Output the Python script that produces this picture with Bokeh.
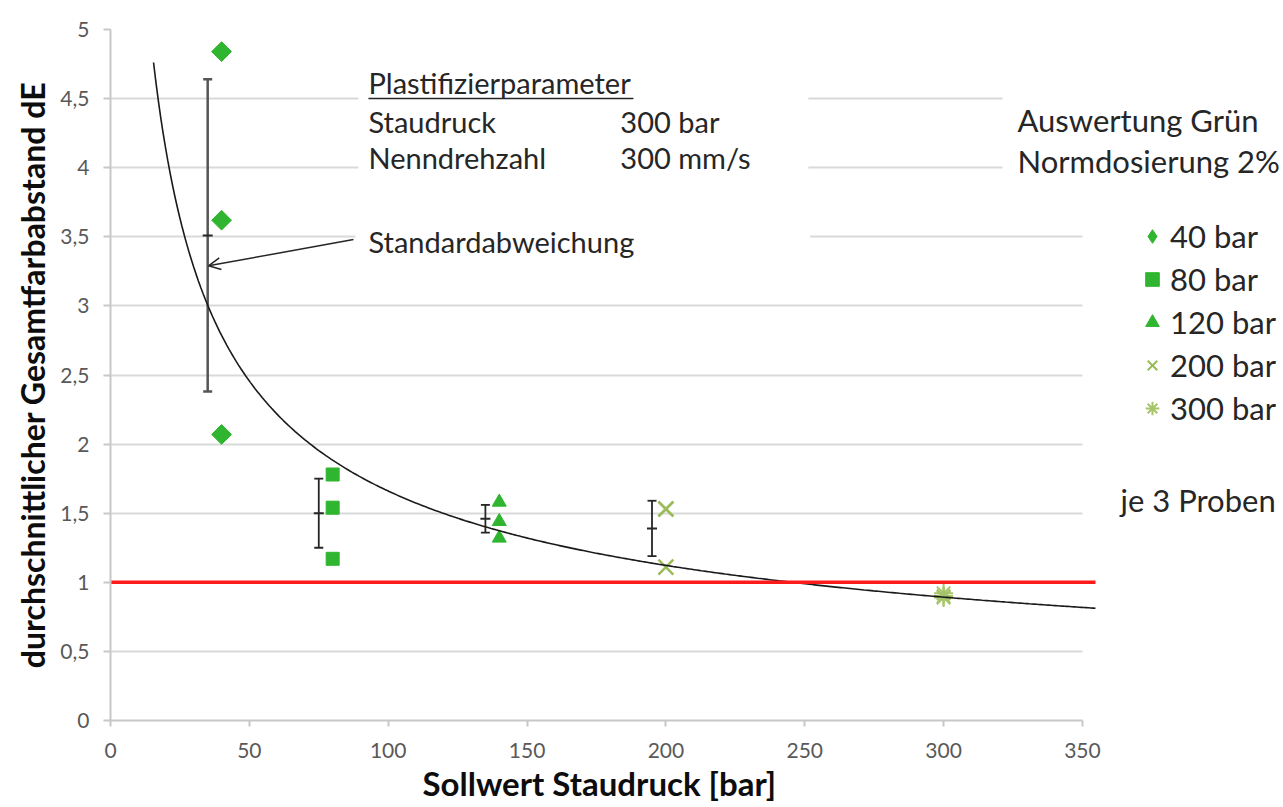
import numpy as np
from bokeh.plotting import figure
from bokeh.models import (ColumnDataSource, Range1d, Label, Arrow, OpenHead, Whisker, TeeHead,
                          BoxAnnotation, Legend, LegendItem, FixedTicker, Title)
from bokeh.embed import file_html
from bokeh.resources import INLINE

# ---------------- data ----------------
series_labels = ["40 bar", "80 bar", "120 bar", "200 bar", "300 bar"]
series_x = [40, 80, 140, 200, 300]
s40_y = [4.84, 3.62, 2.07]
s80_y = [1.78, 1.54, 1.17]
s120_y = [1.58, 1.44, 1.32]
s200_y = [1.53, 1.53, 1.11]
s300_y = [0.92, 0.90, 0.89]

errbar_x = [35, 75, 135, 195]
errbar_mean = [3.51, 1.50, 1.46, 1.39]
errbar_sd = [1.13, 0.25, 0.10, 0.20]

limit_de = 1.0
# power trend line y = a * x^b as drawn in the reference
trend_a = 22.4
trend_b = -0.565
trend_x_start = 15.5
trend_x_end = 354.7

x_ticks = [0, 50, 100, 150, 200, 250, 300, 350]
y_ticks = [0, 0.5, 1, 1.5, 2, 2.5, 3, 3.5, 4, 4.5, 5]
y_tick_labels = ["0", "0,5", "1", "1,5", "2", "2,5", "3", "3,5", "4", "4,5", "5"]

# ---------------- styling ----------------
GREEN = "#2fb52f"
OLIVE = "#9bbb59"
OLIVE2 = "#a6c46a"
TXT = "#262626"
FONT = "Lato"

p = figure(width=1283, height=807, output_backend="svg", toolbar_location=None,
           x_range=Range1d(0, 422.4), y_range=Range1d(0, 5),
           min_border_left=110, min_border_right=0, min_border_top=29, min_border_bottom=87)
p.outline_line_color = None
p.background_fill_color = "white"
p.border_fill_color = "white"

# axes
p.xaxis.ticker = FixedTicker(ticks=x_ticks)
p.yaxis.ticker = FixedTicker(ticks=y_ticks)
p.yaxis.major_label_overrides = {t: l for t, l in zip(y_ticks, y_tick_labels)}
p.xaxis.bounds = (x_ticks[0], x_ticks[-1])
for ax in (p.xaxis, p.yaxis):
    ax.axis_line_color = "#c8c8c8"
    ax.axis_line_width = 2
    ax.major_tick_line_color = "#c8c8c8"
    ax.major_tick_line_width = 2
    ax.major_tick_in = 0
    ax.minor_tick_line_color = None
    ax.major_label_text_font = FONT
    ax.major_label_text_font_size = "21px"
    ax.major_label_text_color = "#595959"
p.yaxis.major_tick_out = 7
p.xaxis.major_tick_out = 6
p.yaxis.major_label_standoff = 14
p.xaxis.major_label_standoff = 16

p.yaxis.axis_label = "durchschnittlicher Gesamtfarbabstand dE"
p.yaxis.axis_label_text_font = FONT
p.yaxis.axis_label_text_font_style = "bold"
p.yaxis.axis_label_text_color = "#0d0d0d"
p.yaxis.axis_label_text_font_size = "32px"
p.yaxis.axis_label_standoff = 5

# x-axis title, centred under the 0..350 axis span
p.add_layout(Title(text="Sollwert Staudruck [bar]", align="left", offset=312, standoff=0,
                   text_font=FONT, text_font_size="33px", text_font_style="bold",
                   text_color="#0d0d0d"), "below")

p.xgrid.grid_line_color = None
p.ygrid.grid_line_color = "#d9d9d9"
p.ygrid.grid_line_width = 2

# white boxes behind texts (gridline interruptions) and beyond x=350
for kw in [dict(left=350), dict(left=89.3, right=251.3, bottom=3.8, top=4.7),
           dict(left=321.2, bottom=3.8, top=4.7), dict(left=88.2, right=252.0, bottom=3.4, top=3.6)]:
    p.add_layout(BoxAnnotation(fill_color="white", fill_alpha=1, line_alpha=0, level="underlay", **kw))

# data markers
p.scatter([series_x[0]] * 3, s40_y, marker="square", angle=np.pi / 4, size=14,
          fill_color=GREEN, line_color=GREEN)
p.scatter([series_x[1]] * 3, s80_y, marker="square", size=13, fill_color=GREEN, line_color=GREEN)
p.scatter([series_x[2]] * 3, s120_y, marker="triangle", size=14, fill_color=GREEN, line_color=GREEN)
p.scatter([series_x[3]] * 3, s200_y, marker="x", size=21, line_color=OLIVE, line_width=2.5)
p.scatter([series_x[4]] * 3, s300_y, marker="asterisk", size=19, line_color=OLIVE2, line_width=2)

# trend line
tx = np.linspace(trend_x_start, trend_x_end, 400)
p.line(tx, trend_a * tx ** trend_b, line_color="#1a1a1a", line_width=1.6)

# limit line (dE = 1)
p.line([0, trend_x_end], [limit_de, limit_de], line_color="#ff1a1a", line_width=3.5)

# error bars
ex = np.array(errbar_x, dtype=float)
em = np.array(errbar_mean)
es = np.array(errbar_sd)
src_a = ColumnDataSource(dict(x=ex[:1], lo=(em - es)[:1], hi=(em + es)[:1]))
src_b = ColumnDataSource(dict(x=ex[1:], lo=(em - es)[1:], hi=(em + es)[1:]))
for src, col, w in [(src_a, "#555555", 2.5), (src_b, "#262626", 1.8)]:
    p.add_layout(Whisker(base="x", lower="lo", upper="hi", source=src, line_color=col, line_width=w,
                         upper_head=TeeHead(size=9, line_color=col, line_width=w),
                         lower_head=TeeHead(size=9, line_color=col, line_width=w)))
p.scatter(errbar_x, errbar_mean, marker="dash", size=10, line_color="#262626", line_width=2)

# annotation texts
def lab(x, y, text, size, color=TXT, **kw):
    p.add_layout(Label(x=x, y=y, text=text, text_font=FONT, text_font_size=size,
                       text_color=color, text_baseline="alphabetic", **kw))

lab(92.9, 4.617, "Plastifizierparameter", "29px")
p.segment(x0=[92.9], y0=[4.50], x1=[188.3], y1=[4.50], line_color=TXT, line_width=1.5)
lab(92.9, 4.335, "Staudruck", "29px")
lab(183.6, 4.335, "300 bar", "29px")
lab(92.9, 4.074, "Nenndrehzahl", "29px")
lab(183.6, 4.074, "300 mm/s", "29px")
lab(92.9, 3.466, "Standardabweichung", "29px")
lab(326.6, 4.345, "Auswertung Grün", "31px")
lab(326.6, 4.048, "Normdosierung 2%", "31px")
lab(363.7, 1.595, "je 3 Proben", "31px")

p.add_layout(Arrow(x_start=87.5, y_start=3.48, x_end=35.3, y_end=3.29, line_color=TXT, line_width=1.5,
                   end=OpenHead(size=12, line_color=TXT, line_width=1.5)))

# legend (legend-only renderers whose single point is NaN, so nothing is drawn in the plot)
leg_specs = [("diamond", GREEN, GREEN, 1), ("square", GREEN, GREEN, 1), ("triangle", GREEN, GREEN, 1),
             ("x", None, OLIVE, 2), ("asterisk", None, OLIVE2, 2)]
items = []
for label, (mk, fc, lc, lw) in zip(series_labels, leg_specs):
    r = p.scatter("x", "y", source=ColumnDataSource(dict(x=[np.nan], y=[np.nan])), marker=mk, size=14,
                  fill_color=fc, line_color=lc, line_width=lw)
    items.append(LegendItem(label=label, renderers=[r]))
legend = Legend(items=items, location=(1025, 293), glyph_width=34, glyph_height=34, label_standoff=1,
                spacing=5, padding=0, margin=0, border_line_alpha=0, background_fill_alpha=0,
                label_text_font=FONT, label_text_font_size="31px", label_text_color=TXT)
p.add_layout(legend)

open("out.html", "w").write(file_html(p, INLINE))
